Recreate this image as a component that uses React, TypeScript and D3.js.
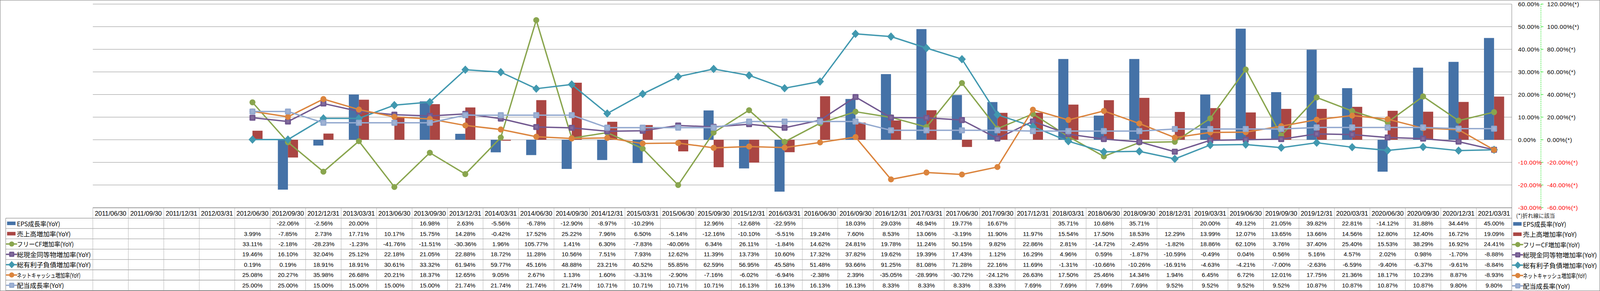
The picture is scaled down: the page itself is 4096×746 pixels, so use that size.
import React from 'react';
import * as d3 from 'd3';

// 決算期
const dates = [
  '2011/06/30', '2011/09/30', '2011/12/31', '2012/03/31', '2012/06/30', '2012/09/30', '2012/12/31',
  '2013/03/31', '2013/06/30', '2013/09/30', '2013/12/31', '2014/03/31', '2014/06/30', '2014/09/30',
  '2014/12/31', '2015/03/31', '2015/06/30', '2015/09/30', '2015/12/31', '2016/03/31', '2016/06/30',
  '2016/09/30', '2016/12/31', '2017/03/31', '2017/06/30', '2017/09/30', '2017/12/31', '2018/03/31',
  '2018/06/30', '2018/09/30', '2018/12/31', '2019/03/31', '2019/06/30', '2019/09/30', '2019/12/31',
  '2020/03/31', '2020/06/30', '2020/09/30', '2020/12/31', '2021/03/31',
];

type V = number | null;
const _ = null;

// 棒グラフ (左軸)
const epsGrowth: V[] = [
  _, _, _, _, _, -22.06, -2.56, 20.0, _, 16.98, 2.63, -5.56, -6.78, -12.9, -8.97, -10.29, _, 12.96,
  -12.68, -22.95, _, 18.03, 29.03, 48.94, 19.77, 16.67, _, 35.71, 10.68, 35.71, _, 20.0, 49.12, 21.05,
  39.82, 22.81, -14.12, 31.88, 34.44, 45.0,
];
const salesGrowth: V[] = [
  _, _, _, _, 3.99, -7.85, 2.73, 17.71, 10.17, 15.75, 14.28, -0.42, 17.52, 25.22, 7.96, 6.5, -5.14,
  -12.16, -10.1, -5.51, 19.24, 7.6, 8.53, 13.06, -3.19, 11.9, 11.97, 15.54, 17.5, 18.53, 12.29, 13.99,
  12.07, 13.65, 13.66, 14.56, 12.8, 12.4, 16.72, 19.09,
];

// 折れ線 (右軸)
const fcfGrowth: V[] = [
  _, _, _, _, 33.11, -2.18, -28.23, -1.23, -41.76, -11.51, -30.36, 1.96, 105.77, 1.41, 6.3, -7.83,
  -40.06, 6.34, 26.11, -1.84, 14.62, 24.81, 19.78, 11.24, 50.15, 9.82, 22.86, 2.81, -14.72, -2.45,
  -1.82, 18.86, 62.1, 3.76, 37.4, 25.4, 15.53, 38.29, 16.92, 24.41,
];
const cashGrowth: V[] = [
  _, _, _, _, 19.46, 16.1, 32.04, 25.12, 22.18, 21.05, 22.88, 18.72, 11.28, 10.56, 7.51, 7.93, 12.62,
  11.39, 13.73, 10.6, 17.32, 37.82, 19.62, 19.39, 17.43, 1.12, 16.29, 4.96, 0.59, -1.87, -10.59, -0.49,
  0.04, 0.56, 5.16, 4.57, 2.02, 0.98, -1.7, -8.88,
];
const debtGrowth: V[] = [
  _, _, _, _, 0.19, 0.19, 18.91, 18.91, 30.61, 33.32, 61.94, 59.77, 45.16, 48.88, 23.21, 40.52, 55.85,
  62.59, 56.95, 45.58, 51.48, 93.66, 91.25, 81.08, 71.28, 22.16, 11.69, -1.31, -10.66, -10.26, -16.91,
  -4.63, -4.21, -7.0, -2.63, -6.59, -9.4, -6.37, -9.61, -8.84,
];
const netCashGrowth: V[] = [
  _, _, _, _, 25.08, 20.27, 35.98, 26.68, 20.21, 18.37, 12.65, 9.05, 2.67, 1.13, 1.6, -3.31, -2.9,
  -7.16, -6.02, -6.94, -2.38, 2.39, -35.05, -28.99, -30.72, -24.12, 26.63, 17.5, 25.46, 14.34, 1.94,
  6.45, 6.72, 12.01, 17.75, 21.36, 18.17, 10.23, 8.87, -8.93,
];
const dividendGrowth: V[] = [
  _, _, _, _, 25.0, 25.0, 15.0, 15.0, 15.0, 15.0, 21.74, 21.74, 21.74, 21.74, 10.71, 10.71, 10.71,
  10.71, 16.13, 16.13, 16.13, 16.13, 8.33, 8.33, 8.33, 8.33, 7.69, 7.69, 7.69, 7.69, 9.52, 9.52, 9.52,
  9.52, 10.87, 10.87, 10.87, 10.87, 9.8, 9.8,
];

const leftTicks = [60, 50, 40, 30, 20, 10, 0, -10, -20, -30];
const rightTicks = [120, 100, 80, 60, 40, 20, 0, -20, -40, -60];

type Marker = 'circle' | 'square' | 'diamond' | 'bar';
interface Series { name: string; values: V[]; color: string; marker: Marker; }

const bars: Series[] = [
  { name: 'EPS成長率(YoY)', values: epsGrowth, color: '#4572A7', marker: 'bar' },
  { name: '売上高増加率(YoY)', values: salesGrowth, color: '#AA4643', marker: 'bar' },
];
const lines: Series[] = [
  { name: 'フリーCF増加率(YoY)', values: fcfGrowth, color: '#89A54E', marker: 'circle' },
  { name: '総現金同等物増加率(YoY)', values: cashGrowth, color: '#71588F', marker: 'square' },
  { name: '総有利子負債増加率(YoY)', values: debtGrowth, color: '#4198AF', marker: 'diamond' },
  { name: 'ネットキャッシュ増加率(YoY)', values: netCashGrowth, color: '#DB843D', marker: 'circle' },
  { name: '配当成長率(YoY)', values: dividendGrowth, color: '#93A9CF', marker: 'square' },
];
const allSeries = [...bars, ...lines];

// レイアウト (参照画像の座標系)
const W = 5877, H = 1071;
const plot = { left: 341, right: 5553, top: 15, bottom: 764 };
const table = { labelLeft: 21, headTop: 765, headBottom: 803, bottom: 1069 };
const numFont = '"Liberation Sans", Arial, sans-serif';
const jpFont = '"Noto Sans CJK JP", "Noto Sans", sans-serif';
// 凡例ラベルの幅 (プロポーショナルフォント相当に合わせる)
const labelWidth: Record<string, number> = {
  'EPS成長率(YoY)': 159,
  '売上高増加率(YoY)': 198,
  'フリーCF増加率(YoY)': 209,
  '総現金同等物増加率(YoY)': 272,
  '総有利子負債増加率(YoY)': 272,
  'ネットキャッシュ増加率(YoY)': 234,
  '配当成長率(YoY)': 173,
};

const fmt = (v: V) => (v == null ? '' : `${v.toFixed(2)}%`);

function drawMarker(type: Marker, cx: number, cy: number, s: number, color: string, key?: any) {
  if (type === 'circle') return <circle key={key} cx={cx} cy={cy} r={s / 2} fill={color} />;
  if (type === 'square')
    return (
      <g key={key}>
        <rect x={cx - s / 2} y={cy - s / 2} width={s} height={s} rx={3} fill={color} />
        <rect x={cx - s / 4} y={cy - s / 4} width={s / 2} height={s / 2} fill="#fff" opacity={0.12} />
      </g>
    );
  if (type === 'diamond') {
    const w = s * 0.65, h = s * 0.7;
    return <path key={key} d={`M${cx},${cy - h}L${cx + w},${cy}L${cx},${cy + h}L${cx - w},${cy}Z`} fill={color} />;
  }
  return null;
}

function LegendIcon({ s, x, y }: { s: Series; x: number; y: number }) {
  if (s.marker === 'bar') return <rect x={x} y={y - 6.5} width={31} height={13} fill={s.color} />;
  return (
    <g>
      <line x1={x - 2} x2={x + 35} y1={y} y2={y} stroke={s.color} strokeWidth={5} strokeLinecap="round" />
      {drawMarker(s.marker, x + 17, y, 19, s.color)}
    </g>
  );
}

function LegendLabel({ name, x, y }: { name: string; x: number; y: number }) {
  // 小さいカナが多いラベルは全角幅だとはみ出すので元の文字サイズを下げておく
  const size = name.length > 15 ? 19 : 23;
  return (
    <text x={x} y={y} dominantBaseline="central" fontFamily={jpFont} fontSize={size}
      textLength={labelWidth[name]} lengthAdjust="spacingAndGlyphs"
      transform={size !== 23 ? `translate(${x},${y}) scale(1,${23 / size}) translate(${-x},${-y})` : undefined}>
      {name}
    </text>
  );
}

export default function App() {
  const x = d3.scaleBand<string>().domain(dates).range([plot.left, plot.right]);
  const xBar = d3.scaleBand<string>().domain(bars.map(b => b.name)).range([0, x.bandwidth()]).paddingOuter(0.76);
  const yL = d3.scaleLinear().domain([-30, 60]).range([plot.bottom, plot.top]);
  const yR = d3.scaleLinear().domain([-60, 120]).range([plot.bottom, plot.top]);
  const rows = d3.scaleBand<string>().domain(allSeries.map(s => s.name)).range([table.headBottom, table.bottom]);
  const cx = (i: number) => (x(dates[i]) ?? 0) + x.bandwidth() / 2;

  const lineGen = d3.line<V>()
    .defined(v => v != null)
    .x((_v, i) => cx(i))
    .y(v => yR(v as number));

  const axisX1 = 5576, axisLine = 5660, axisX2 = 5683;

  return (
    <div>
      <style>{'body{margin:0;background:#fff}'}</style>
      <svg width={4096} height={746} viewBox={`0 0 ${W} ${H}`} preserveAspectRatio="none" style={{ display: 'block' }}>
        <rect x={0} y={0} width={W} height={H} fill="#fff" />

        {/* 目盛線 */}
        {leftTicks.map(t => (
          <line key={t} x1={plot.left} x2={plot.right} y1={yL(t)} y2={yL(t)} stroke="#888" strokeWidth={1.4} />
        ))}
        <line x1={plot.right} x2={plot.right} y1={plot.top} y2={table.bottom} stroke="#888" strokeWidth={1.6} />

        {/* 棒 */}
        {bars.map(b => (
          <g key={b.name}>
            {b.values.map((v, i) => v == null ? null : (
              <rect key={i}
                x={(x(dates[i]) ?? 0) + (xBar(b.name) ?? 0)}
                y={Math.min(yL(v), yL(0))}
                width={xBar.bandwidth()}
                height={Math.abs(yL(v) - yL(0))}
                fill={b.color} />
            ))}
          </g>
        ))}

        {/* 折れ線 */}
        {lines.map(s => (
          <g key={s.name}>
            <path d={lineGen(s.values) ?? ''} fill="none" stroke={s.color} strokeWidth={5} strokeLinejoin="round" />
            {s.values.map((v, i) => v == null ? null : drawMarker(s.marker, cx(i), yR(v), 22, s.color, i))}
          </g>
        ))}

        {/* 右側の軸 */}
        <line x1={axisLine} x2={axisLine} y1={plot.top} y2={plot.bottom} stroke="#00E000" strokeWidth={1.6} strokeDasharray="4,3" />
        {leftTicks.map((t, k) => (
          <g key={t} fontFamily={numFont} fontSize={22} dominantBaseline="central">
            <line x1={axisLine} x2={axisLine + 9} y1={yL(t)} y2={yL(t)} stroke="#00E000" strokeWidth={1.6} />
            <text x={axisX1} y={yL(t)} fill={t < 0 ? '#FF0000' : '#000'} letterSpacing={0.8}>{`${t.toFixed(2)}%`}</text>
            <text x={axisX2} y={yL(t)} fill={t < 0 ? '#FF0000' : '#000'} letterSpacing={0.8}>{`${rightTicks[k].toFixed(2)}%(*)`}</text>
          </g>
        ))}
        <text x={5569} y={792} fontFamily={jpFont} fontSize={20} dominantBaseline="central" fill="#222">(*)折れ線に該当</text>

        {/* データテーブル */}
        <line x1={plot.left} x2={plot.right} y1={table.headTop} y2={table.headTop} stroke="#888" strokeWidth={1.6} />
        {rows.domain().map(n => (
          <line key={n} x1={table.labelLeft} x2={plot.right} y1={rows(n)} y2={rows(n)} stroke="#888" strokeWidth={1.6} />
        ))}
        <line x1={table.labelLeft} x2={plot.right} y1={table.bottom} y2={table.bottom} stroke="#888" strokeWidth={1.6} />
        <line x1={table.labelLeft} x2={table.labelLeft} y1={table.headBottom} y2={table.bottom} stroke="#888" strokeWidth={1.6} />
        {dates.map(d => (
          <line key={d} x1={x(d)} x2={x(d)} y1={table.headTop} y2={table.bottom} stroke="#a6a6a6" strokeWidth={1.2} />
        ))}
        {dates.map((d, i) => (
          <text key={d} x={cx(i)} y={(table.headTop + table.headBottom) / 2 + 1} textAnchor="middle"
            dominantBaseline="central" fontFamily={numFont} fontSize={23.5}>{d}</text>
        ))}
        {allSeries.map(s => {
          const ry = (rows(s.name) ?? 0) + rows.bandwidth() / 2;
          return (
            <g key={s.name}>
              <LegendIcon s={s} x={26} y={ry} />
              <LegendLabel name={s.name} x={62} y={ry} />
              {s.values.map((v, i) => (
                <text key={i} x={cx(i)} y={ry} textAnchor="middle" dominantBaseline="central"
                  fontFamily={numFont} fontSize={22}>{fmt(v)}</text>
              ))}
              <LegendIcon s={s} x={5558} y={ry + 2} />
              <LegendLabel name={s.name} x={5594} y={ry + 2} />
            </g>
          );
        })}

        {/* 外枠 */}
        <rect x={0.8} y={0.8} width={W - 1.6} height={H - 1.6} fill="none" stroke="#888" strokeWidth={1.6} />
      </svg>
    </div>
  );
}
